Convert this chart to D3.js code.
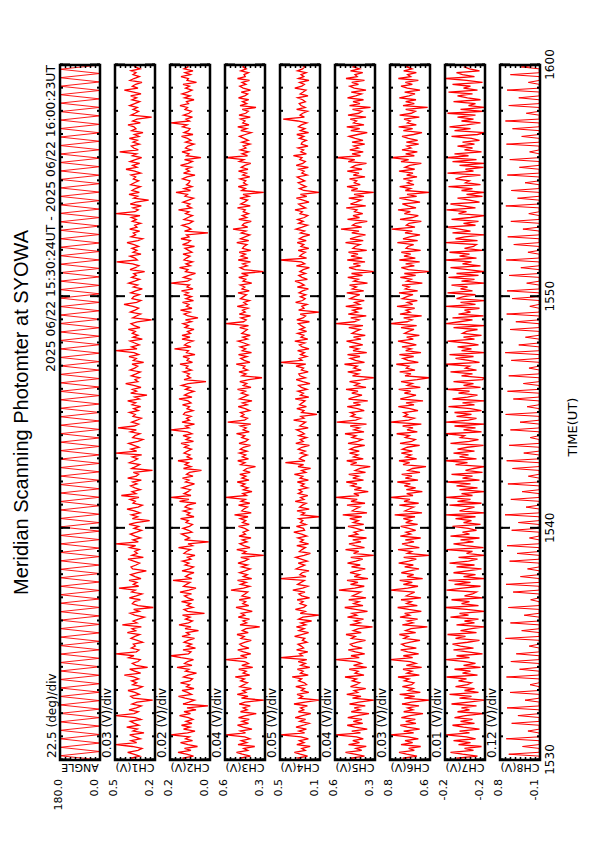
<!DOCTYPE html>
<html>
<head>
<meta charset="utf-8">
<script src="https://cdn.jsdelivr.net/npm/d3@7"></script>
<style>
body { margin: 0; background: #fff; }
svg text { font-family: "DejaVu Sans", sans-serif; fill: #000; }
.title { font-family: "Liberation Sans", Arial, sans-serif; }
</style>
</head>
<body>
<div id="chart"></div>
<script>
// panel names, ranges (8 divisions each) and labels
var chNames = ["ANGLE", "CH1(V)", "CH2(V)", "CH3(V)", "CH4(V)", "CH5(V)", "CH6(V)", "CH7(V)", "CH8(V)"];
var chMin = [0, 0.26, 0.04, 0.28, 0.10, 0.28, 0.56, -0.24, -0.10];
var chMax = [180, 0.50, 0.20, 0.60, 0.50, 0.60, 0.80, -0.16, 0.86];
var topLabels = ["180.0", "0.5", "0.2", "0.6", "0.5", "0.6", "0.8", "-0.2", "0.8"];
var bottomLabels = ["0.0", "0.2", "0.0", "0.3", "0.1", "0.3", "0.6", "-0.2", "-0.1"];
var divLabels = ["22.5 (deg)/div", "0.03 (V)/div", "0.02 (V)/div", "0.04 (V)/div", "0.05 (V)/div",
                 "0.04 (V)/div", "0.03 (V)/div", "0.01 (V)/div", "0.12 (V)/div"];
var timeLabels = ["1530", "1540", "1550", "1600"];

// scan angle (deg) at the turning points of the meridian scan
var angleDeg = [
  0,180,0,180,0,180,0,180,0,180,0,180,0,180,0,180,0,180,0,180,
  0,180,0,180,0,180,0,180,0,180,0,180,0,180,0,180,0,180,0,180,
  0,180,0,180,0,180,0,180,0,180,0,180,0,180,0,180,0,180,0,180,
  0,180,0,180,0,180,0,180,0,180,0,180,0,180,0,180,0,180,0,180,
  0,180,0,180,0,180,0,180,0,180,0,180,0,180,0,180,0,180,0,180,
  0,180,0,180,0,180,0,180,0,180,0,180,0,180,0,180,0,180,0,180,
  0,180,0,180,0,180,0,180,0,180,0,180,0,180,0,180,0,180,0,180,
  0,180,0,180,0,180,0,180,0,180,0,180,0,180,0,180,0,180,0,180,
  0,180,0,180,0
];

// channel outputs in mV, evenly sampled (5 s) over the 30 minutes
var ch1 = [
  376,402,352,388,424,362,338,396,494,370,404,348,382,412,326,392,366,430,356,384,
  408,344,378,495,386,360,416,372,342,398,368,274,390,406,354,380,422,364,336,394,
  370,400,358,388,444,346,382,412,304,374,396,362,348,418,386,495,372,356,402,378,
  390,334,366,404,380,352,426,376,398,342,456,368,392,360,324,382,410,354,388,270,
  362,396,384,348,414,372,338,400,378,476,358,390,368,416,344,380,406,364,312,394,
  404,374,352,388,422,330,398,366,382,354,412,376,495,360,392,346,380,408,370,340,
  386,358,416,374,292,396,364,402,350,384,428,362,336,392,378,410,356,462,374,398,
  348,382,406,368,394,342,424,372,358,390,275,400,376,352,414,386,364,396,340,495,
  370,404,356,386,418,362,332,394,380,350,408,372,482,384,358,400,368,342,392,378,
  414,360,388,346,398,376,424,354,382,308,406,370,396,344,388,436,362,380,352,402,
  374,348,410,382,364,398,328,390,372,416,358,386,495,368,400,354,382,410,336,392,
  362,396,378,420,350,384,404,366,280,394,372,346,408,380,358,392,446,370,344,398,
  388,354,406,376,336,390,364,418,382,352,400,372,388,322,410,378,356,394,490,366,
  380,410,344,392,368,398,358,386,428,362,334,404,376,390,352,412,368,382,346,396,
  372,402,350,495,380,360,392,342,408,374,298,388,364,416,354,398,378,348,406,384,
  358,390,376,404,346,382,434,368,394,352,410,378,340,396,370,472,360,388,402,354,
  392,366,414,356,384,332,400,374,386,422,348,394,368,280,404,380,358,392,366,412,
  382,352,398,370,406,344,388,444,362,396,376,338,410,386,354,392,374,404,350,380,
  388
];
var ch2 = [
  124,150,106,134,168,116,142,90,128,158,110,138,122,196,130,100,146,120,154,112,
  136,108,126,162,118,144,96,132,48,148,124,102,140,166,114,130,152,104,134,122,
  158,120,110,146,128,94,138,124,172,112,142,130,106,156,196,126,116,148,98,132,
  114,144,128,102,152,122,134,86,140,116,164,126,110,138,120,150,62,130,144,108,
  132,118,154,106,128,142,114,160,124,96,146,134,120,188,112,138,126,104,152,122,
  106,140,124,150,116,130,100,144,134,118,166,110,128,45,142,122,136,154,112,126,
  148,122,110,136,126,158,104,132,120,146,114,140,130,96,162,124,196,116,144,128,
  118,152,128,102,138,124,150,108,134,122,74,146,116,140,126,168,110,132,120,144,
  130,114,142,126,156,106,136,120,148,112,130,196,124,138,102,152,122,134,116,146,
  140,108,132,122,150,116,128,164,112,142,126,104,138,120,154,128,56,144,118,132,
  122,146,114,136,128,160,110,132,124,148,100,134,126,182,116,142,130,108,152,120,
  152,118,130,104,140,126,148,114,138,88,128,144,120,158,112,134,124,150,106,136,
  114,142,126,154,108,132,122,196,130,116,146,124,98,138,128,162,118,136,110,144,
  134,120,148,112,126,140,102,150,128,118,156,124,134,48,142,116,130,152,122,108,
  144,128,110,138,124,166,114,132,120,148,126,106,140,130,176,118,144,112,134,124,
  120,150,132,100,146,122,136,114,158,128,110,142,76,134,124,152,116,138,128,104,
  138,116,130,154,108,144,126,120,150,132,196,122,136,110,146,124,114,140,130,160,
  126,134,104,142,120,152,130,112,138,122,148,94,132,126,156,118,140,108,144,128,
  130
];
var ch3 = [
  434,484,396,462,508,418,450,362,496,426,470,400,442,592,436,478,384,454,500,412,
  464,406,492,434,350,476,422,454,398,486,440,290,468,416,502,432,458,388,480,448,
  420,474,444,518,402,456,430,490,378,466,412,442,595,424,476,394,452,498,408,460,
  482,438,390,472,446,504,414,462,432,322,480,426,456,404,494,442,470,382,448,512,
  410,458,434,486,396,464,440,418,552,452,402,476,430,500,386,454,422,484,438,398,
  468,420,496,444,412,474,290,458,432,506,400,450,482,424,462,392,488,436,456,414,
  442,492,406,460,434,478,416,524,390,466,448,420,492,402,472,438,595,428,458,384,
  454,416,470,440,502,408,464,432,482,398,450,426,356,474,440,498,412,462,434,486,
  424,478,452,396,488,434,414,466,442,508,406,456,430,476,394,578,444,420,472,448,
  476,402,438,494,422,460,384,484,450,416,470,436,500,392,454,426,482,408,304,464,
  432,488,418,456,440,510,400,446,474,424,492,388,462,434,478,410,448,496,420,458,
  398,466,444,422,482,412,595,452,430,472,396,486,438,460,416,502,426,450,404,476,
  452,428,496,406,464,442,478,386,456,434,490,414,468,292,446,480,422,458,396,494,
  416,472,436,486,394,460,448,424,506,410,476,440,402,470,432,536,418,462,446,390,
  490,426,462,412,454,438,500,398,474,444,420,482,408,456,290,466,436,494,424,452,
  434,480,402,458,428,492,416,470,442,394,486,450,595,420,464,412,478,432,454,400,
  466,414,448,484,436,390,474,426,498,408,458,440,476,398,488,434,414,462,352,480,
  426,460,410,492,442,418,470,396,454,482,432,464,404,500,438,448,412,474,430,456,
  440
];
var ch4 = [
  272,322,224,298,356,248,282,198,332,260,306,216,290,495,254,312,236,340,266,208,
  302,244,348,278,192,316,262,294,226,360,250,110,308,274,330,212,286,256,342,234,
  256,314,284,378,218,296,268,326,202,292,246,318,232,495,276,304,222,334,264,288,
  320,230,276,252,354,286,214,310,258,336,242,292,184,314,270,110,298,248,346,262,
  238,300,268,328,204,282,312,250,372,274,220,324,290,256,495,240,302,278,210,338,
  294,252,318,228,288,344,260,196,306,280,246,332,214,298,266,322,232,284,362,254,
  266,336,240,296,272,312,110,286,254,330,208,304,276,238,348,260,294,222,316,278,
  310,224,290,258,326,216,300,272,356,242,284,194,320,264,446,250,306,280,228,296,
  248,318,282,206,342,268,298,234,312,256,288,334,218,302,274,244,364,260,292,130,
  284,260,332,236,304,278,250,348,212,296,266,322,230,286,314,200,272,338,246,300,
  312,218,286,264,340,242,495,280,308,232,294,256,324,210,278,306,252,352,222,290,
  262,324,234,302,252,288,316,206,332,270,244,298,110,314,260,282,230,344,274,248,
  296,242,310,274,216,326,258,292,350,226,280,312,244,302,268,206,336,252,286,495,
  234,304,280,246,318,212,290,262,328,238,308,272,202,296,254,340,278,224,314,268,
  324,256,222,300,276,350,244,286,314,210,270,336,232,296,110,262,306,240,284,318,
  252,294,328,228,282,258,310,216,338,272,246,302,280,366,236,292,264,320,220,288,
  278,236,306,262,332,214,296,250,316,286,232,322,468,256,300,272,224,334,248,290,
  308,246,274,324,220,298,268,240,352,282,256,304,210,316,262,290,238,326,274,252,
  280
];
var ch5 = [
  416,474,364,442,516,386,432,350,492,404,458,374,428,595,396,466,342,438,502,378,
  454,384,498,422,328,470,400,446,358,484,410,290,460,392,506,418,448,354,476,430,
  402,462,428,520,368,440,414,486,346,452,388,434,595,406,472,362,436,494,382,456,
  478,420,356,468,438,512,390,454,412,300,482,398,444,372,500,426,464,340,436,522,
  376,450,408,490,352,460,424,394,568,442,366,476,416,504,336,446,404,480,422,358,
  468,398,500,432,378,474,290,452,410,516,364,440,488,392,458,348,494,418,448,380,
  430,496,370,454,414,482,386,538,344,462,436,402,504,360,472,422,595,408,450,334,
  446,388,470,424,510,372,458,412,490,356,438,400,318,476,426,506,374,452,416,484,
  406,480,442,362,496,418,382,464,432,520,368,448,404,478,348,586,434,394,472,440,
  476,366,420,502,396,454,338,492,444,384,466,416,512,352,442,406,484,370,290,460,
  414,498,390,450,422,524,364,436,478,400,500,346,456,410,486,378,440,508,392,452,
  358,464,434,398,490,376,595,446,408,474,350,494,420,458,382,514,404,442,366,480,
  444,402,506,370,462,428,484,340,450,414,498,380,468,290,432,488,396,454,360,502,
  382,472,416,492,346,458,438,400,516,374,480,426,356,466,408,552,386,460,434,342,
  500,404,456,378,444,424,510,354,476,432,392,490,368,448,290,470,418,504,398,446,
  426,484,360,454,408,502,384,468,436,348,494,442,595,396,464,374,482,412,450,362,
  464,376,438,488,418,342,474,402,506,368,452,428,478,352,496,410,384,460,316,484,
  400,456,372,500,434,388,470,352,446,482,412,466,364,512,422,440,378,476,404,454,
  420
];
var ch6 = [
  676,724,638,700,746,654,688,616,734,664,710,630,692,798,658,718,622,696,738,644,
  706,648,732,680,602,718,662,694,626,728,672,565,714,652,742,618,690,660,726,670,
  656,714,686,752,624,698,668,722,610,702,644,680,798,664,720,628,694,736,642,708,
  730,678,620,716,690,744,646,706,674,576,726,662,696,634,740,682,712,612,688,754,
  636,700,672,734,614,702,678,652,798,694,632,720,666,742,604,698,658,732,682,626,
  712,660,748,688,642,718,565,696,670,752,624,692,728,656,708,616,738,676,704,646,
  686,736,634,706,672,720,650,772,608,710,684,658,744,628,716,680,798,662,700,606,
  702,646,714,678,756,632,708,668,730,620,692,664,584,722,682,746,640,704,674,732,
  666,726,696,622,740,670,648,708,684,760,636,698,662,724,612,798,688,654,716,694,
  718,632,680,750,656,704,602,738,690,644,714,676,748,618,696,666,734,638,565,710,
  674,742,650,702,686,762,630,692,722,658,744,614,706,672,728,642,694,752,660,700,
  624,712,688,656,734,640,798,698,668,718,610,740,680,704,652,758,664,696,636,726,
  698,662,746,634,708,684,728,606,700,672,738,646,714,565,690,732,654,706,622,744,
  648,716,676,732,616,704,692,658,756,634,722,682,620,710,666,790,650,702,686,612,
  740,666,630,714,678,752,644,692,726,620,684,744,640,698,565,708,676,742,656,696,
  670,720,638,700,662,746,652,710,682,612,734,688,798,654,706,636,728,674,698,628,
  702,634,690,728,658,608,720,664,748,642,696,678,716,624,742,672,648,706,574,722,
  654,706,644,744,686,650,712,620,696,734,666,708,630,750,676,694,642,718,668,700,
  680
];
var ch7 = [
  -205,-183,-225,-195,-171,-217,-199,-233,-187,-211,-177,-221,-203,-162,-209,-189,-229,-197,-175,-219,
  -191,-215,-179,-201,-237,-185,-209,-193,-223,-173,-207,-239,-189,-213,-169,-227,-199,-219,-181,-205,
  -213,-187,-203,-163,-225,-195,-211,-179,-231,-197,-221,-201,-162,-209,-183,-235,-205,-177,-217,-191,
  -175,-205,-229,-181,-201,-165,-223,-191,-213,-239,-183,-219,-199,-227,-171,-207,-189,-239,-203,-162,
  -227,-193,-209,-173,-235,-199,-215,-223,-163,-195,-231,-179,-211,-167,-239,-197,-221,-177,-205,-233,
  -183,-219,-169,-207,-225,-187,-239,-203,-215,-163,-237,-201,-177,-217,-191,-229,-171,-209,-195,-223,
  -207,-175,-231,-197,-213,-181,-221,-162,-239,-189,-203,-219,-169,-233,-185,-211,-162,-215,-193,-239,
  -189,-225,-183,-211,-165,-229,-195,-215,-173,-235,-201,-217,-239,-181,-205,-162,-223,-189,-207,-177,
  -219,-185,-205,-237,-171,-209,-227,-191,-199,-162,-233,-197,-221,-179,-239,-162,-207,-223,-183,-213,
  -179,-233,-211,-167,-219,-195,-239,-175,-205,-225,-187,-209,-163,-231,-197,-217,-177,-235,-239,-193,
  -215,-171,-223,-201,-209,-162,-229,-207,-181,-217,-169,-239,-193,-213,-185,-227,-203,-165,-219,-197,
  -233,-195,-203,-225,-177,-239,-162,-189,-215,-175,-237,-187,-211,-199,-229,-162,-221,-191,-239,-183,
  -197,-221,-165,-215,-191,-205,-173,-239,-193,-219,-167,-227,-183,-239,-205,-171,-231,-195,-213,-162,
  -223,-189,-209,-169,-235,-199,-217,-223,-162,-225,-181,-199,-239,-175,-211,-189,-162,-221,-197,-227,
  -173,-211,-239,-187,-203,-163,-221,-195,-171,-229,-209,-185,-235,-203,-239,-193,-215,-167,-231,-201,
  -209,-181,-195,-231,-165,-217,-201,-237,-189,-239,-175,-223,-162,-207,-179,-233,-199,-215,-185,-219,
  -195,-229,-213,-173,-225,-239,-179,-211,-169,-203,-231,-193,-217,-185,-221,-165,-237,-191,-239,-207,
  -221,-177,-231,-205,-185,-215,-167,-225,-197,-211,-175,-235,-203,-162,-219,-195,-183,-229,-209,-199,
  -203
];
var ch8 = [
  -83,-80,-86,650,-81,-84,-79,320,-85,-82,-80,710,-79,-84,-81,190,-86,-80,-83,580,-82,-78,-85,430,
  -80,-84,-82,690,-83,-79,-86,260,-81,-85,-80,620,-84,-82,-78,140,-80,-86,-83,705,-79,-81,-84,390,
  -85,-83,-80,600,-82,-79,-84,470,-86,-81,-83,160,-80,-85,-79,730,-83,-80,-86,340,-81,-84,-82,610,
  -79,-85,-81,280,-84,-80,-83,660,-82,-86,-79,125,-85,-81,-84,545,-80,-83,-78,715,-86,-82,-80,370,
  -81,-79,-85,200,-83,-84,-80,630,-79,-82,-86,450,-84,-80,-81,690,-82,-85,-83,155,-80,-79,-84,580,
  -86,-81,-82,420,-80,-85,-79,740,-83,-82,-84,235,-81,-86,-80,600,-85,-79,-83,330,-82,-84,-81,670,
  -80,-83,-85,180,-84,-81,-79,560,-82,-86,-83,700,-79,-80,-85,290,-83,-84,-82,640,-86,-81,-80,135,
  -84,-79,-82,610,-81,-85,-86,380,-80,-83,-79,725,-85,-82,-81,210,-79,-84,-83,540,-82,-80,-86,680,
  -83,-85,-80,300,-86,-79,-84,650,-81,-82,-85,165,-80,-86,-79,590,-84,-81,-83,735,-85,-80,-82,410,
  -79,-84,-81,250,-82,-83,-86,620,-85,-80,-79,480,-83,-81,-84,700,-80,-85,-82,145,-86,-79,-83,570,
  -81,-86,-80,690,-84,-82,-85,220,-79,-83,-81,640,-85,-80,-86,360,-82,-84,-79,710,-80,-81,-83,190,
  -86,-80,-84,530,-81,-79,-82,675,-83,-85,-80,310,-79,-84,-86,600,-82,-81,-85,170,-84,-80,-79,720,
  -80,-83,-81,440,-85,-86,-84,590,-82,-79,-80,260,-81,-85,-83,685,-86,-80,-82,395,-79,-84,-81,625,
  -84,-82,-86,150,-80,-81,-79,705,-83,-85,-82,340,-86,-80,-84,560,-81,-83,-80,730,-85,-79,-86,230,
  -82,-84,-80,650,-79,-86,-83,410,-84,-81,-85,690,-80,-82,-79,180,-83,-85,-81,610,-86,-80,-84,350,
  -81
];

var series = [angleDeg, ch1, ch2, ch3, ch4, ch5, ch6, ch7, ch8];
var unit = [1, 0.001, 0.001, 0.001, 0.001, 0.001, 0.001, 0.001, 0.001];
var lineWidth = [0.9, 1.3, 1.3, 1.3, 1.3, 1.3, 1.3, 1.3, 1];

function drawChart() {
  // the plot is laid out in landscape (842 x 595) and turned onto the portrait page
  var svg = d3.select("#chart").append("svg")
      .attr("width", 595)
      .attr("height", 842);
  var g = svg.append("g").attr("transform", "translate(0,842) rotate(-90)");

  var plotLeft = 82, plotRight = 777;
  var panelTop0 = 60, panelStep = 55, panelH = 40;

  var t0 = new Date(Date.UTC(2025, 5, 22, 15, 30, 0));
  var t1 = new Date(Date.UTC(2025, 5, 22, 16, 0, 0));
  var x = d3.scaleUtc().domain([t0, t1]).range([plotLeft, plotRight]);
  var minuteTicks = x.ticks(d3.utcMinute.every(1));
  var tenTicks = x.ticks(d3.utcMinute.every(10));

  g.append("text")
      .attr("class", "title")
      .attr("x", (plotLeft + plotRight) / 2)
      .attr("y", 28)
      .attr("text-anchor", "middle")
      .style("font-size", "20px")
      .text("Meridian Scanning Photomter at SYOWA");

  g.append("text")
      .attr("x", plotRight)
      .attr("y", 55)
      .attr("text-anchor", "end")
      .attr("textLength", 307)
      .attr("lengthAdjust", "spacingAndGlyphs")
      .style("font-size", "12px")
      .text("2025 06/22 15:30:24UT - 2025 06/22 16:00:23UT");

  series.forEach(function(vals, i) {
    var pTop = panelTop0 + i * panelStep;
    var pBottom = pTop + panelH;
    var y = d3.scaleLinear().domain([chMin[i], chMax[i]]).range([pBottom, pTop]);
    var step = (t1 - t0) / (vals.length - 1);
    var u = unit[i];

    var pg = g.append("g").attr("class", "panel");

    pg.append("clipPath").attr("id", "clip" + i)
      .append("rect")
      .attr("x", plotLeft).attr("y", pTop)
      .attr("width", plotRight - plotLeft).attr("height", panelH);

    var line = d3.line()
        .x(function(d, j) { return x(new Date(+t0 + j * step)); })
        .y(function(d) { return y(d * u); });

    pg.append("path")
        .datum(vals)
        .attr("clip-path", "url(#clip" + i + ")")
        .attr("fill", "none")
        .attr("stroke", "#ff0000")
        .attr("stroke-width", lineWidth[i])
        .attr("d", line);

    // time ticks on both long edges, pointing inward
    var ax;
    ax = pg.append("g").attr("transform", "translate(0," + pBottom + ")")
        .call(d3.axisTop(x).tickValues(minuteTicks).tickSize(3).tickFormat(""));
    ax.select(".domain").remove();
    ax = pg.append("g").attr("transform", "translate(0," + pTop + ")")
        .call(d3.axisBottom(x).tickValues(minuteTicks).tickSize(3).tickFormat(""));
    ax.select(".domain").remove();
    ax = pg.append("g").attr("transform", "translate(0," + pBottom + ")")
        .call(d3.axisTop(x).tickValues(tenTicks).tickSize(10).tickFormat(""));
    ax.select(".domain").remove();
    ax = pg.append("g").attr("transform", "translate(0," + pTop + ")")
        .call(d3.axisBottom(x).tickValues(tenTicks).tickSize(10).tickFormat(""));
    ax.select(".domain").remove();
    pg.selectAll(".tick line").attr("stroke-width", 2);

    // value divisions (8 per panel)
    var divs = d3.range(1, 8).map(function(k) { return chMin[i] + k * (chMax[i] - chMin[i]) / 8; });
    ax = pg.append("g").attr("transform", "translate(" + plotLeft + ",0)")
        .call(d3.axisRight(y).tickValues(divs).tickSize(3).tickFormat(""));
    ax.select(".domain").remove();
    ax.selectAll(".tick line").attr("stroke-width", 1.5);
    ax = pg.append("g").attr("transform", "translate(" + plotRight + ",0)")
        .call(d3.axisLeft(y).tickValues(divs).tickSize(3).tickFormat(""));
    ax.select(".domain").remove();
    ax.selectAll(".tick line").attr("stroke-width", 1.5);

    pg.append("rect")
        .attr("x", plotLeft).attr("y", pTop)
        .attr("width", plotRight - plotLeft).attr("height", panelH)
        .attr("fill", "none")
        .attr("stroke", "#000")
        .attr("stroke-width", 2.5);

    pg.append("text")
        .attr("x", plotLeft + 2)
        .attr("y", pTop - 4)
        .style("font-size", "12px")
        .text(divLabels[i]);

    pg.append("text")
        .attr("transform", "translate(78," + (pTop + panelH / 2) + ") rotate(-90)")
        .attr("text-anchor", "middle")
        .style("font-size", "11px")
        .text(chNames[i]);

    pg.append("text")
        .attr("x", 63).attr("y", pTop + 2)
        .attr("text-anchor", "end")
        .style("font-size", "11px")
        .text(topLabels[i]);
    pg.append("text")
        .attr("x", 63).attr("y", pBottom - 2)
        .attr("text-anchor", "end")
        .style("font-size", "11px")
        .text(bottomLabels[i]);
  });

  // time labels under the last panel
  var lastBottom = panelTop0 + (series.length - 1) * panelStep + panelH;
  var tAxis = g.append("g").attr("transform", "translate(0," + lastBottom + ")")
      .call(d3.axisBottom(x).tickValues(tenTicks).tickSize(0).tickPadding(5)
        .tickFormat(function(d, k) { return timeLabels[k]; }));
  tAxis.select(".domain").remove();
  tAxis.attr("font-family", null).attr("font-size", null);
  tAxis.selectAll("text").style("font-size", "12px");

  g.append("text")
      .attr("x", 415)
      .attr("y", 577)
      .attr("text-anchor", "middle")
      .style("font-size", "13px")
      .text("TIME(UT)");
}

drawChart();
</script>
</body>
</html>
